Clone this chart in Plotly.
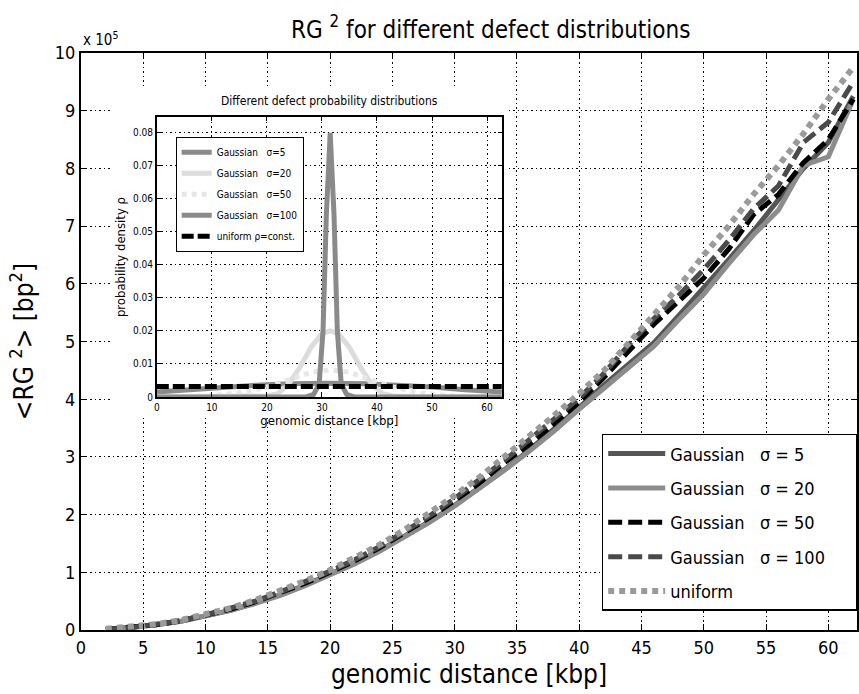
import plotly.graph_objects as go

# ---------------- data (main chart, <RG^2> in units of 1e5 bp^2) ----------------
dist_kbp = [2, 4, 6, 8, 10, 12, 14, 16, 18, 20, 22, 24, 26, 28, 30, 32,
            34, 36, 38, 40, 42, 44, 46, 48, 50, 52, 54, 56, 58, 60, 62]
rg2_sigma5 = [0.01, 0.04, 0.09, 0.15, 0.24, 0.34, 0.47, 0.61, 0.78, 0.97, 1.16, 1.38, 1.62, 1.88, 2.16, 2.46,
              2.78, 3.12, 3.48, 3.86, 4.25, 4.62, 4.98, 5.45, 5.92, 6.42, 6.92, 7.45, 8.00, 8.45, 9.25]
rg2_sigma20 = [0.01, 0.04, 0.09, 0.15, 0.24, 0.34, 0.46, 0.60, 0.77, 0.96, 1.15, 1.37, 1.61, 1.87, 2.15, 2.45,
               2.77, 3.10, 3.45, 3.83, 4.20, 4.55, 4.92, 5.38, 5.82, 6.35, 6.85, 7.28, 8.05, 8.20, 9.20]
rg2_sigma50 = [0.01, 0.04, 0.09, 0.16, 0.25, 0.36, 0.49, 0.64, 0.81, 1.00, 1.20, 1.43, 1.68, 1.95, 2.24, 2.55,
               2.90, 3.22, 3.58, 3.95, 4.38, 4.85, 5.30, 5.70, 6.10, 6.60, 7.20, 7.55, 8.10, 8.50, 9.20]
rg2_sigma100 = [0.01, 0.04, 0.10, 0.16, 0.26, 0.37, 0.50, 0.66, 0.83, 1.02, 1.22, 1.45, 1.71, 1.98, 2.28, 2.60,
                2.94, 3.30, 3.65, 4.02, 4.45, 4.95, 5.40, 5.80, 6.25, 6.75, 7.30, 7.70, 8.45, 8.80, 9.50]
rg2_uniform = [0.02, 0.05, 0.10, 0.17, 0.27, 0.38, 0.52, 0.68, 0.85, 1.04, 1.25, 1.48, 1.74, 2.02, 2.33, 2.65,
               3.00, 3.38, 3.72, 4.10, 4.50, 4.98, 5.45, 5.95, 6.50, 7.00, 7.55, 8.05, 8.60, 9.20, 9.75]

NB = "\u00a0"
main_names = ["Gaussian" + NB * 3 + "σ = 5", "Gaussian" + NB * 3 + "σ = 20",
              "Gaussian" + NB * 3 + "σ = 50", "Gaussian" + NB * 3 + "σ = 100" + NB * 5, "uniform"]

# ---------------- data (inset: probability densities) ----------------
pd_x_sigma5 = [0, 20, 27, 28.5, 29.5, 30.2, 30.8, 31.5, 32.2, 32.8, 33.5, 34.5, 36, 45, 62.7]
pd_sigma5 = [0, 0, 0, 0.0008, 0.004, 0.02, 0.055, 0.08, 0.055, 0.02, 0.004, 0.0008, 0, 0, 0]
pd_x_sigma20 = [0, 15, 20, 22, 24, 26, 28, 30, 31.5, 33, 35, 37, 39, 41, 43, 48, 62.7]
pd_sigma20 = [0, 0, 0.0003, 0.001, 0.004, 0.009, 0.015, 0.0192, 0.02, 0.0192, 0.015, 0.009, 0.004, 0.001,
              0.0003, 0, 0]
pd_x_sigma50 = [0, 5, 10, 15, 20, 25, 28, 31.5, 35, 38, 43, 48, 53, 58, 62.7]
pd_sigma50 = [0, 0.0001, 0.0004, 0.0013, 0.003, 0.0057, 0.0075, 0.0082, 0.0075, 0.0057, 0.003, 0.0012,
              0.0004, 0.0001, 0]
pd_x_sigma100 = [0, 6, 12, 18, 24, 31, 38, 44, 50, 56, 62.7]
pd_sigma100 = [0.0015, 0.0022, 0.003, 0.0036, 0.004, 0.0042, 0.004, 0.0036, 0.003, 0.0022, 0.0015]
pd_x_uniform = [0, 62.7]
pd_uniform = [0.0032, 0.0032]

inset_names = ["Gaussian" + NB * 3 + "σ=5", "Gaussian" + NB * 3 + "σ=20", "Gaussian" + NB * 3 + "σ=50",
               "Gaussian" + NB * 3 + "σ=100", "uniform ρ=const."]

FONT = "Liberation Sans Narrow, DejaVu Sans Condensed, Arial Narrow, sans-serif"

fig = go.Figure()

# ---- main traces ----
main_series = [rg2_sigma5, rg2_sigma20, rg2_sigma50, rg2_sigma100, rg2_uniform]
main_styles = [
    dict(color="#555555", width=5, dash="solid"),
    dict(color="#8c8c8c", width=5, dash="solid"),
    dict(color="#000000", width=5, dash="14px,6px"),
    dict(color="#4a4a4a", width=5, dash="14px,6px"),
    dict(color="#9a9a9a", width=6, dash="6px,5px"),
]
for i, (ys, st, nm) in enumerate(zip(main_series, main_styles, main_names)):
    fig.add_trace(go.Scatter(x=dist_kbp, y=ys, mode="lines", name=nm, line=st,
                             legendgroup="m%d" % i, xaxis="x", yaxis="y"))

# ---- mask subplot (white background behind the inset) ----
fig.add_trace(go.Scatter(x=[0.5], y=[0.5], mode="markers", marker=dict(opacity=0),
                         showlegend=False, hoverinfo="skip", xaxis="x2", yaxis="y2"))

# ---- inset traces ----
inset_x = [pd_x_sigma5, pd_x_sigma20, pd_x_sigma50, pd_x_sigma100, pd_x_uniform]
inset_y = [pd_sigma5, pd_sigma20, pd_sigma50, pd_sigma100, pd_uniform]
inset_styles = [
    dict(color="#8a8a8a", width=5, dash="solid"),
    dict(color="#dcdcdc", width=5, dash="solid"),
    dict(color="#e6e6e6", width=5, dash="5px,5px"),
    dict(color="#8a8a8a", width=5, dash="solid"),
    dict(color="#000000", width=5, dash="12px,4px"),
]
draw_order = [3, 1, 2, 0, 4]
for i in draw_order:
    fig.add_trace(go.Scatter(x=inset_x[i], y=inset_y[i], mode="lines", name=inset_names[i],
                             line=inset_styles[i], legend="legend2", legendgroup="i%d" % i,
                             legendrank=i + 1, xaxis="x3", yaxis="y3"))

axis_common = dict(showline=True, linecolor="black", mirror="ticks", ticks="inside",
                   tickcolor="black", showgrid=True, gridcolor="black", zeroline=False)

fig.update_layout(
    width=859, height=694,
    margin=dict(l=81, r=0, t=53, b=64),
    paper_bgcolor="white", plot_bgcolor="white",
    font=dict(family=FONT, color="black"),
    title=dict(text="RG <sup>2</sup> for different defect distributions", x=0.528, xref="paper",
               xanchor="center", y=0.958, yanchor="middle", font=dict(size=24, family=FONT)),
    xaxis=dict(**axis_common, range=[0, 62.3], dtick=5, tick0=0, ticklen=6, linewidth=2,
               griddash="1.5px,3px", gridwidth=1, tickfont=dict(size=18),
               title=dict(text="genomic distance [kbp]", font=dict(size=26), standoff=8),
               domain=[0, 1], anchor="y"),
    yaxis=dict(**axis_common, range=[0, 10], dtick=1, tick0=0, ticklen=6, linewidth=2,
               griddash="1.5px,3px", gridwidth=1, tickfont=dict(size=18),
               title=dict(text="&lt;RG <sup>2</sup>&gt; [bp<sup>2</sup>]", font=dict(size=26), standoff=14),
               domain=[0, 1], anchor="x"),
    xaxis2=dict(domain=[0.0373, 0.5476], range=[0, 1], visible=False, anchor="y2", fixedrange=True),
    yaxis2=dict(domain=[0.3726, 0.9393], range=[0, 1], visible=False, anchor="x2", fixedrange=True),
    xaxis3=dict(**axis_common, domain=[0.0977, 0.5424], range=[0, 62.7], dtick=10, ticklen=4,
                linewidth=1.5, griddash="1.5px,3px", gridwidth=1, tickfont=dict(size=10),
                title=dict(text="genomic distance [kbp]", font=dict(size=13), standoff=2),
                anchor="y3"),
    yaxis3=dict(**axis_common, domain=[0.4038, 0.889], range=[0, 0.0848], dtick=0.01, ticklen=4,
                linewidth=1.5, griddash="1.5px,3px", gridwidth=1, tickfont=dict(size=10),
                tickformat="~g",
                title=dict(text="probability density ρ", font=dict(size=13), standoff=4),
                anchor="x3"),
    legend=dict(x=0.671, y=0.34, xanchor="left", yanchor="top", bgcolor="white",
                bordercolor="black", borderwidth=1.5, font=dict(size=18),
                tracegroupgap=8, itemwidth=57),
    legend2=dict(x=0.122, y=0.855, xanchor="left", yanchor="top", bgcolor="white",
                 bordercolor="black", borderwidth=1, font=dict(size=10),
                 tracegroupgap=2, itemwidth=30),
    shapes=[dict(type="rect", xref="x2", yref="y2", x0=0, x1=1, y0=0, y1=1,
                 fillcolor="white", line=dict(width=0), layer="below")],
    annotations=[
        dict(text="x 10<sup>5</sup>", xref="paper", yref="paper", x=0.0, y=1.0, xanchor="left",
             yanchor="bottom", showarrow=False, font=dict(size=15), yshift=2),
        dict(text="Different defect probability distributions", xref="paper", yref="paper",
             x=0.32, y=0.917, xanchor="center", yanchor="middle", showarrow=False,
             font=dict(size=12)),
    ],
)

fig.write_html("out.html")
